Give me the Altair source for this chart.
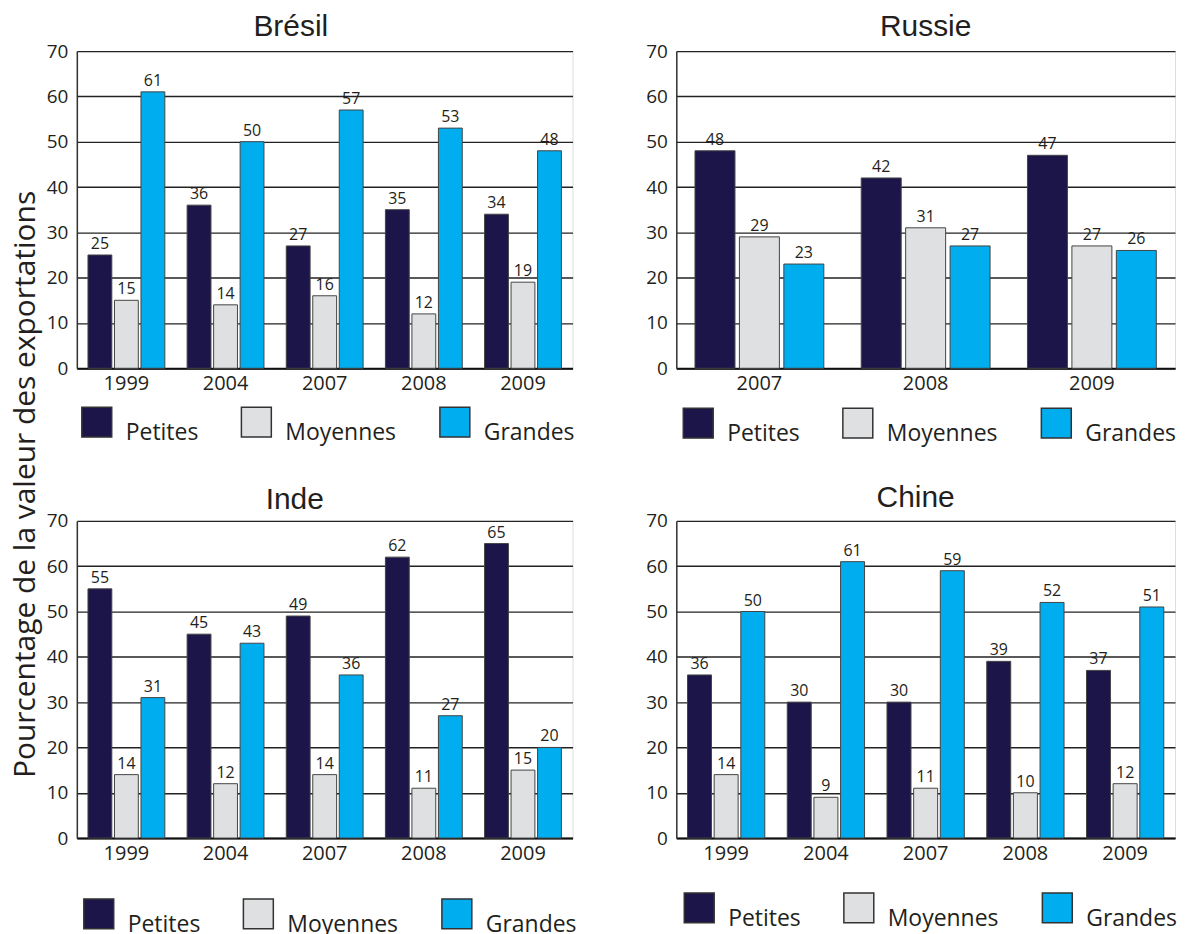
import altair as alt
import pandas as pd

sizes = ["Petites", "Moyennes", "Grandes"]
colors = ["#1c154a", "#dfe0e2", "#00adef"]

years_5 = ["1999", "2004", "2007", "2008", "2009"]
years_3 = ["2007", "2008", "2009"]

bresil_petites = [25, 36, 27, 35, 34]
bresil_moyennes = [15, 14, 16, 12, 19]
bresil_grandes = [61, 50, 57, 53, 48]

russie_petites = [48, 42, 47]
russie_moyennes = [29, 31, 27]
russie_grandes = [23, 27, 26]

inde_petites = [55, 45, 49, 62, 65]
inde_moyennes = [14, 12, 14, 11, 15]
inde_grandes = [31, 43, 36, 27, 20]

chine_petites = [36, 30, 30, 39, 37]
chine_moyennes = [14, 9, 11, 10, 12]
chine_grandes = [50, 61, 59, 52, 51]

y_ticks = [0, 10, 20, 30, 40, 50, 60, 70]
y_title = "Pourcentage de la valeur des exportations"

TXT = "#231f20"
FONT = "Open Sans"


def make_df(years, p, m, g):
    rows = []
    for i, yr in enumerate(years):
        rows.append({"Année": yr, "Taille": "Petites", "Valeur": p[i]})
        rows.append({"Année": yr, "Taille": "Moyennes", "Valeur": m[i]})
        rows.append({"Année": yr, "Taille": "Grandes", "Valeur": g[i]})
    return pd.DataFrame(rows)


def panel(name, years, p, m, g, width, height, title_dx, title_offset,
          leg_x, leg_y, show_ytitle=False):
    df = make_df(years, p, m, g)
    x = alt.X("Année:N", sort=years,
              scale=alt.Scale(paddingInner=0.225, paddingOuter=0.1125),
              axis=alt.Axis(title=None, labelAngle=0, tickSize=0, labelPadding=5,
                            labelFont=FONT, labelFontSize=20, labelColor=TXT,
                            domainColor="#111", domainWidth=2))
    xo = alt.XOffset("Taille:N", sort=sizes,
                     scale=alt.Scale(domain=sizes, paddingInner=0.1, paddingOuter=0))
    if show_ytitle:
        yaxis = alt.Axis(values=y_ticks, tickSize=0, labelPadding=9,
                         labelFont=FONT, labelFontSize=19, labelColor=TXT,
                         grid=True, gridColor="#222", gridWidth=1.4,
                         domainColor="#333", domainWidth=1.5,
                         title=y_title, titleAngle=270, titleX=-42, titleY=434,
                         titleAlign="center", titleBaseline="alphabetic",
                         titleFont=FONT, titleFontSize=30, titleFontWeight="normal",
                         titleColor=TXT)
    else:
        yaxis = alt.Axis(values=y_ticks, tickSize=0, labelPadding=9,
                         labelFont=FONT, labelFontSize=19, labelColor=TXT,
                         grid=True, gridColor="#222", gridWidth=1.4,
                         domainColor="#333", domainWidth=1.5, title=None)
    y = alt.Y("Valeur:Q", scale=alt.Scale(domain=[0, 70], nice=False), axis=yaxis)

    legend = alt.Legend(orient="none", legendX=leg_x, legendY=leg_y,
                        direction="horizontal", title=None, padding=0,
                        symbolType="square", symbolSize=900,
                        symbolStrokeColor="#333", symbolStrokeWidth=1.5,
                        symbolOpacity=1,
                        labelFont=FONT, labelFontSize=23, labelColor=TXT,
                        labelOffset=13, columnPadding=40, labelBaseline="top",
                        labelLimit=300)
    bars = alt.Chart(df).mark_bar(stroke="#444", strokeWidth=1).encode(
        x=x, xOffset=xo, y=y,
        color=alt.Color("Taille:N", sort=sizes,
                        scale=alt.Scale(domain=sizes, range=colors),
                        legend=legend),
    )
    labels = alt.Chart(df).mark_text(dy=-11, font=FONT, fontSize=16, color=TXT).encode(
        x=x, xOffset=xo, y=y, text=alt.Text("Valeur:Q"),
    )
    return alt.layer(bars, labels).properties(
        width=width, height=height,
        title=alt.Title(name, font="Liberation Sans", fontSize=30, fontWeight="normal",
                        color=TXT, dx=title_dx, offset=title_offset),
    )


bresil = panel("Brésil", years_5, bresil_petites, bresil_moyennes, bresil_grandes,
               497, 318, -34, 0, 4, 356, show_ytitle=True)
russie = panel("Russie", years_3, russie_petites, russie_moyennes, russie_grandes,
               500, 318, 0, 0, 6, 357)
inde = panel("Inde", years_5, inde_petites, inde_moyennes, inde_grandes,
             497, 318, -30, -3, 6, 378)
chine = panel("Chine", years_5, chine_petites, chine_moyennes, chine_grandes,
              500, 318, -10, -1, 7, 372)

chart = alt.concat(
    bresil, russie, inde, chine, columns=2,
    spacing={"row": 153, "column": 104}, bounds="flush",
).resolve_legend(color="independent").resolve_scale(
    x="independent", xOffset="independent", color="independent"
).properties(
    padding={"left": 2, "top": 2, "right": 0, "bottom": 0},
).configure_view(stroke="#333", strokeWidth=1.5).configure(background="white")

chart.save("out.html", embed_options={"renderer": "svg", "actions": False})
